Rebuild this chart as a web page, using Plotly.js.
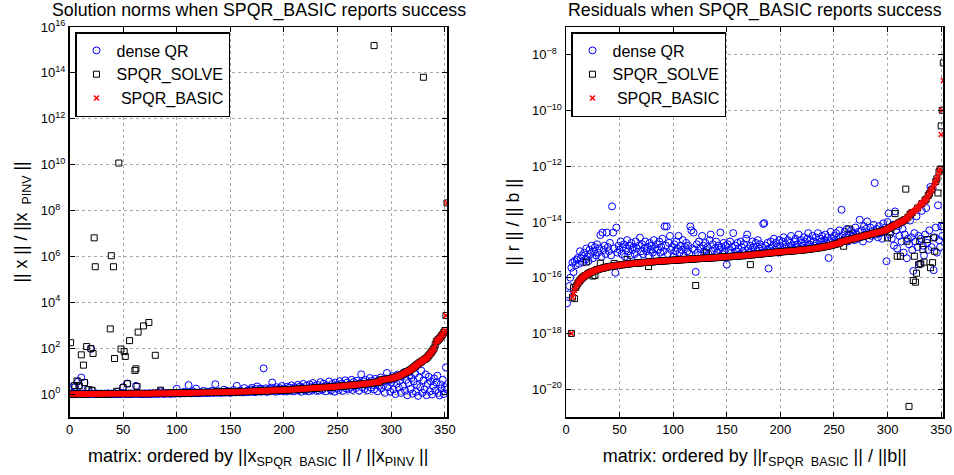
<!DOCTYPE html>
<html>
<head>
<meta charset="utf-8">
<script src="https://cdn.plot.ly/plotly-3.0.1.min.js"></script>
<style>html,body{margin:0;padding:0;background:#fff;}#chart{width:954px;height:475px;}</style>
</head>
<body>
<div id="chart"></div>
<script>
// ---- DATA (log10 of the plotted values) ----
// Left panel: ||x|| / ||x_PINV||, matrices ordered by SPQR_BASIC
const leftBasicLog = [
0,0,0,0,0,0,0,0,0,0,
0,0,0,0,0,0,0,0,0,0,
0,0,0,0,0,0,0,0,0.01,0.01,
0.01,0.01,0.01,0.01,0.01,0.01,0.01,0.01,0.01,0.01,
0.01,0.01,0.01,0.01,0.01,0.01,0.01,0.01,0.01,0.01,
0.01,0.01,0.01,0.01,0.01,0.01,0.02,0.02,0.02,0.02,
0.02,0.02,0.02,0.02,0.02,0.02,0.02,0.02,0.02,0.02,
0.02,0.02,0.02,0.02,0.02,0.02,0.03,0.03,0.03,0.03,
0.03,0.03,0.03,0.03,0.03,0.03,0.03,0.03,0.03,0.03,
0.03,0.03,0.03,0.03,0.04,0.04,0.04,0.04,0.04,0.04,
0.04,0.04,0.04,0.04,0.05,0.05,0.05,0.05,0.05,0.05,
0.05,0.05,0.05,0.06,0.06,0.06,0.06,0.06,0.06,0.06,
0.06,0.06,0.07,0.07,0.07,0.07,0.07,0.07,0.07,0.07,
0.07,0.07,0.07,0.07,0.08,0.08,0.08,0.08,0.08,0.08,
0.08,0.08,0.08,0.08,0.08,0.09,0.09,0.09,0.09,0.09,
0.09,0.09,0.09,0.10,0.10,0.10,0.10,0.10,0.10,0.10,
0.10,0.11,0.11,0.11,0.11,0.11,0.11,0.11,0.12,0.12,
0.12,0.12,0.12,0.13,0.13,0.13,0.13,0.13,0.14,0.14,
0.14,0.14,0.14,0.15,0.15,0.15,0.15,0.15,0.16,0.16,
0.16,0.16,0.16,0.16,0.17,0.17,0.17,0.17,0.17,0.18,
0.18,0.18,0.18,0.19,0.19,0.19,0.19,0.20,0.20,0.20,
0.20,0.21,0.21,0.21,0.22,0.22,0.22,0.22,0.23,0.23,
0.23,0.24,0.24,0.24,0.25,0.25,0.25,0.26,0.26,0.26,
0.27,0.27,0.27,0.28,0.28,0.28,0.29,0.29,0.29,0.30,
0.30,0.30,0.31,0.31,0.31,0.32,0.32,0.32,0.33,0.33,
0.34,0.34,0.34,0.35,0.35,0.36,0.36,0.36,0.37,0.37,
0.38,0.38,0.39,0.39,0.40,0.40,0.41,0.41,0.42,0.42,
0.43,0.43,0.44,0.44,0.45,0.45,0.46,0.46,0.47,0.47,
0.48,0.48,0.49,0.50,0.50,0.51,0.52,0.52,0.53,0.60,
0.61,0.62,0.62,0.63,0.64,0.64,0.65,0.66,0.67,0.68,
0.69,0.71,0.72,0.74,0.75,0.77,0.79,0.80,0.83,0.85,
0.88,0.90,0.93,0.95,0.98,1.00,1.03,1.06,1.09,1.12,
1.16,1.20,1.24,1.28,1.31,1.35,1.38,1.41,1.45,1.48,
1.51,1.54,1.57,1.62,1.68,1.74,1.80,1.86,1.93,2.00,
2.15,2.28,2.33,2.38,2.42,2.48,2.55,2.60,2.68,2.77,
3.42,8.33];

const leftDenseLog = [
0.00,0.02,0.05,0.37,0.30,0.01,0.00,0.55,0.37,0.03,
0.72,0.00,0.02,0.50,0.01,0.00,0.19,0.00,0.02,1.97,
0.15,0.00,0.01,0.00,0.03,0.00,0.01,0.00,0.02,0.00,
0.01,0.00,0.02,0.01,0.00,0.03,0.01,0.00,0.02,0.01,
0.00,0.02,0.01,0.00,0.10,0.01,0.02,0.00,0.05,0.30,
0.02,0.01,0.00,0.46,0.02,0.01,0.03,0.00,0.02,0.01,
0.02,0.36,0.01,0.03,0.00,0.02,0.01,0.02,0.00,0.03,
0.01,0.02,0.00,0.03,0.02,0.01,0.02,0.03,0.01,0.02,
0.03,0.02,0.01,0.03,0.12,0.02,0.03,0.01,0.02,0.03,
0.02,0.04,0.03,0.01,0.03,0.02,0.04,0.03,0.02,0.23,
0.03,0.05,0.02,0.04,0.03,0.05,0.10,0.03,0.04,0.06,
0.39,0.04,0.05,0.03,0.12,0.05,0.04,0.24,0.06,0.03,
0.05,0.08,0.04,0.06,0.14,0.05,0.07,0.04,0.10,0.06,
0.05,0.07,0.15,0.06,0.05,0.43,0.08,0.06,0.12,0.07,
0.05,0.09,0.07,0.19,0.06,0.08,0.14,0.07,0.09,0.05,
0.10,0.08,0.18,0.09,0.07,0.36,0.10,0.08,0.15,0.09,
0.11,0.07,0.26,0.10,0.08,0.16,0.12,0.09,0.20,0.27,
0.10,0.14,0.08,0.22,0.33,0.11,0.15,0.24,0.10,0.18,
1.12,0.13,0.25,0.09,0.20,0.16,0.12,0.28,0.50,0.14,
0.22,0.10,0.30,0.15,0.12,0.26,0.18,0.35,0.13,0.24,
0.20,0.11,0.32,0.17,0.28,0.14,0.38,0.22,0.12,0.30,
0.25,0.16,0.40,0.18,0.33,0.10,0.28,0.44,0.20,0.15,
0.36,0.24,0.12,0.42,0.30,0.18,0.48,0.22,0.35,0.14,
0.40,0.26,0.15,0.52,0.32,0.20,0.45,0.28,0.12,0.38,
0.30,0.55,0.22,0.16,0.44,0.35,0.10,0.50,0.26,0.40,
0.18,0.56,0.32,0.45,0.14,0.38,0.60,0.24,0.50,0.20,
0.42,0.30,0.62,0.18,0.52,0.35,0.26,0.58,0.40,0.15,
0.48,0.86,0.30,0.55,0.22,0.62,0.38,0.16,0.50,0.70,
0.28,0.58,0.40,0.20,0.66,0.45,0.12,0.60,0.35,0.72,
0.25,0.55,0.40,0.05,0.68,0.92,0.30,0.60,0.10,0.50,
0.78,0.20,0.65,0.00,0.45,0.85,0.28,0.58,0.05,0.75,
0.35,0.95,0.15,0.62,-0.05,0.48,0.82,0.22,0.70,0.02,
0.55,0.88,0.10,0.40,-0.08,0.72,0.30,1.02,0.05,0.60,
0.20,0.85,-0.05,0.45,0.75,0.12,0.55,-0.02,0.35,0.68,
0.15,0.50,0.80,0.05,-0.06,0.42,0.25,0.62,0.00,0.30,
1.16,0.20];

// SPQR_SOLVE equals SPQR_BASIC except at these matrices
const leftSolveIdx = [1,5,7,9,11,13,14,16,18,20,21,22,23,24,38,39,41,42,44,46,48,50,51,52,54,56,61,62,63,64,69,74,80,85,284,330];
const leftSolveLog = [2.24,0.37,0.57,0.36,1.71,1.26,0.50,2.07,0.19,1.98,0.16,1.77,6.81,5.55,2.84,6.03,5.55,1.55,0.12,10.07,1.96,0.28,1.85,1.64,0.45,2.33,1.03,1.10,0.33,2.70,2.97,3.12,1.69,0.17,15.19,13.81];

// Right panel: ||r|| / ||b||, matrices ordered by SPQR_BASIC residual
const rightBasicLog = [
null,null,null,null,-18.00,-16.70,-16.58,-16.45,-16.35,-16.27,
-16.20,-16.15,-16.10,-16.05,-16.01,-15.98,-15.95,-15.92,-15.89,-15.87,
-15.85,-15.83,-15.81,-15.79,-15.77,-15.76,-15.74,-15.73,-15.71,-15.70,
-15.69,-15.68,-15.67,-15.66,-15.65,-15.64,-15.63,-15.62,-15.61,-15.60,
-15.60,-15.59,-15.59,-15.58,-15.57,-15.57,-15.56,-15.56,-15.55,-15.55,
-15.54,-15.54,-15.53,-15.53,-15.52,-15.52,-15.51,-15.51,-15.50,-15.50,
-15.49,-15.49,-15.49,-15.48,-15.48,-15.48,-15.47,-15.47,-15.47,-15.46,
-15.46,-15.46,-15.45,-15.45,-15.45,-15.44,-15.44,-15.44,-15.43,-15.43,
-15.43,-15.42,-15.42,-15.42,-15.41,-15.41,-15.41,-15.40,-15.40,-15.40,
-15.40,-15.39,-15.39,-15.39,-15.39,-15.38,-15.38,-15.38,-15.38,-15.37,
-15.37,-15.37,-15.37,-15.36,-15.36,-15.36,-15.36,-15.35,-15.35,-15.35,
-15.35,-15.34,-15.34,-15.34,-15.34,-15.33,-15.33,-15.33,-15.33,-15.32,
-15.32,-15.32,-15.32,-15.31,-15.31,-15.31,-15.31,-15.30,-15.30,-15.30,
-15.30,-15.30,-15.29,-15.29,-15.29,-15.29,-15.28,-15.28,-15.28,-15.28,
-15.27,-15.27,-15.27,-15.27,-15.26,-15.26,-15.26,-15.26,-15.25,-15.25,
-15.25,-15.25,-15.24,-15.24,-15.24,-15.24,-15.23,-15.23,-15.23,-15.22,
-15.22,-15.22,-15.21,-15.21,-15.21,-15.20,-15.20,-15.20,-15.19,-15.19,
-15.19,-15.18,-15.18,-15.18,-15.17,-15.17,-15.16,-15.16,-15.16,-15.15,
-15.15,-15.14,-15.14,-15.14,-15.13,-15.13,-15.12,-15.12,-15.12,-15.11,
-15.11,-15.10,-15.10,-15.10,-15.09,-15.09,-15.08,-15.08,-15.08,-15.07,
-15.07,-15.07,-15.06,-15.06,-15.06,-15.05,-15.05,-15.05,-15.04,-15.04,
-15.04,-15.03,-15.03,-15.03,-15.02,-15.02,-15.02,-15.01,-15.01,-15.00,
-15.00,-15.00,-14.99,-14.99,-14.98,-14.98,-14.97,-14.97,-14.96,-14.96,
-14.95,-14.95,-14.94,-14.94,-14.93,-14.92,-14.92,-14.91,-14.90,-14.90,
-14.89,-14.88,-14.87,-14.87,-14.86,-14.85,-14.84,-14.83,-14.82,-14.81,
-14.80,-14.79,-14.78,-14.77,-14.76,-14.72,-14.71,-14.70,-14.69,-14.68,
-14.67,-14.66,-14.65,-14.64,-14.63,-14.62,-14.61,-14.60,-14.59,-14.58,
-14.57,-14.56,-14.55,-14.54,-14.53,-14.52,-14.51,-14.50,-14.49,-14.48,
-14.47,-14.46,-14.45,-14.44,-14.43,-14.42,-14.41,-14.40,-14.39,-14.38,
-14.37,-14.36,-14.35,-14.34,-14.33,-14.32,-14.31,-14.29,-14.27,-14.25,
-14.23,-14.21,-14.19,-14.17,-14.15,-14.13,-14.11,-14.09,-14.07,-14.05,
-14.03,-14.01,-13.99,-13.97,-13.95,-13.92,-13.90,-13.87,-13.83,-13.78,
-13.73,-13.69,-13.66,-13.63,-13.60,-13.57,-13.54,-13.50,-13.46,-13.42,
-13.38,-13.34,-13.30,-13.26,-13.22,-13.18,-13.12,-13.05,-12.98,-12.90,
-12.85,-12.80,-12.70,-12.62,-12.55,-12.45,-12.35,-12.20,-12.10,-10.86,
-9.99,-8.92];

const rightDenseLog = [
-16.92,-16.60,-16.30,-16.00,-15.64,-15.46,-15.80,-15.40,-15.55,-15.35,
-15.29,-15.50,-15.05,-15.30,-15.20,-15.45,-15.10,-15.35,-14.95,-15.25,
-15.40,-15.00,-15.15,-14.85,-15.30,-15.05,-14.90,-15.20,-14.80,-15.10,
-14.95,-14.47,-15.25,-14.38,-15.00,-14.85,-15.15,-14.38,-14.90,-15.05,
-14.75,-15.20,-13.44,-14.38,-14.95,-15.82,-14.20,-15.10,-14.85,-15.00,
-14.70,-15.15,-14.90,-14.80,-15.25,-14.95,-14.65,-15.05,-14.85,-15.20,
-14.75,-15.00,-14.90,-15.15,-14.70,-14.95,-15.30,-14.85,-14.56,-15.05,
-14.80,-15.15,-14.95,-14.70,-15.05,-14.90,-15.20,-14.75,-15.00,-14.85,
-15.10,-14.65,-14.95,-15.20,-14.80,-15.00,-14.70,-15.10,-14.90,-14.60,
-15.05,-14.16,-14.85,-14.16,-15.15,-14.75,-14.50,-15.00,-14.90,-15.25,
-14.80,-15.05,-14.70,-14.95,-14.50,-15.10,-14.85,-15.00,-14.65,-15.20,
-14.90,-14.75,-15.05,-14.85,-15.15,-14.16,-14.30,-14.95,-14.38,-15.00,
-15.79,-14.80,-15.10,-14.70,-14.95,-15.20,-14.50,-14.85,-15.05,-14.75,
-15.00,-14.90,-15.15,-14.65,-14.45,-15.05,-14.80,-15.25,-14.95,-14.70,
-15.10,-14.85,-15.00,-14.38,-14.90,-15.15,-14.75,-15.05,-14.85,-15.53,
-14.80,-15.00,-14.70,-15.10,-14.90,-14.40,-15.20,-14.85,-15.05,-14.75,
-14.95,-15.15,-14.70,-14.90,-15.05,-14.80,-15.20,-14.60,-14.45,-14.95,
-15.10,-14.85,-15.00,-14.70,-14.90,-15.15,-14.75,-15.05,-14.65,-14.95,
-14.80,-15.10,-14.90,-14.07,-14.04,-14.85,-15.00,-14.75,-15.67,-14.95,
-14.70,-15.05,-14.85,-14.60,-15.00,-14.75,-14.90,-15.10,-14.65,-14.85,
-15.00,-14.70,-14.55,-14.95,-14.80,-15.05,-14.65,-14.90,-14.75,-14.50,
-14.85,-15.00,-14.70,-14.60,-14.90,-14.80,-14.45,-14.95,-14.65,-14.75,
-14.85,-14.55,-14.70,-14.95,-14.60,-14.40,-14.80,-14.65,-14.90,-14.50,
-14.70,-14.85,-14.55,-14.75,-14.40,-14.90,-14.60,-14.70,-14.50,-14.80,
-14.65,-14.45,-14.75,-14.55,-15.29,-14.70,-14.35,-14.60,-14.80,-14.50,
-14.65,-14.40,-14.75,-14.55,-14.30,-14.70,-13.56,-14.50,-14.65,-14.35,
-14.55,-14.25,-14.70,-14.45,-14.60,-14.30,-14.50,-14.40,-14.65,-14.20,
-14.45,-14.60,-14.35,-13.92,-14.55,-14.30,-14.70,-14.15,-14.45,-14.25,
-13.98,-14.40,-14.60,-14.20,-14.50,-14.35,-14.10,-12.60,-14.45,-14.25,
-14.55,-14.15,-14.40,-14.30,-14.60,-14.05,-14.35,-14.20,-15.41,-14.00,
-13.69,-14.45,-14.20,-14.60,-14.10,-14.85,-13.62,-14.30,-14.95,-14.15,
-14.50,-14.00,-14.70,-14.25,-15.10,-14.45,-13.90,-15.30,-14.60,-14.80,
-13.95,-14.55,-15.00,-15.76,-14.40,-14.70,-13.80,-14.90,-14.50,-15.50,
-14.60,-13.60,-14.85,-15.20,-14.45,-13.50,-14.75,-15.00,-14.30,-12.74,
-14.90,-12.79,-15.73,-14.55,-14.20,-15.10,-13.40,-14.65,-14.90,-14.16,
-14.50,-14.16];

const rightSolveIdx = [7,8,19,25,27,32,45,57,77,121,131,172,259,264,300,303,307,309,312,317,318,320,324,325,326,327,329,330,331,333,334,337,340,342,343,344,347,350,352];
const rightSolveLog = [-16.36,-16.75,-15.44,-15.94,-15.92,-15.48,-15.49,-15.35,-15.60,-16.28,-15.11,-15.53,-14.87,-14.25,-14.57,-14.36,-13.70,-15.23,-15.23,-12.82,-14.69,-20.62,-16.10,-15.23,-16.16,-15.84,-15.53,-14.69,-15.50,-14.99,-15.44,-14.63,-15.64,-15.46,-14.57,-15.05,-12.96,-10.55,-8.29];

const seriesNames = ['dense QR', 'SPQR_SOLVE', '\u00a0SPQR_BASIC'];
const xTickVals = [0,50,100,150,200,250,300,350];
const leftYExp = [0,2,4,6,8,10,12,14,16];
const rightYExp = [-20,-18,-16,-14,-12,-10,-8];

// ---- build ----
const toVal = a => a.map(v => v === null ? null : Math.pow(10, v));
const idx = a => a.map((_, i) => i + 1);
function withOverrides(base, ids, vals) {
  const out = base.slice();
  ids.forEach((k, j) => { out[k - 1] = vals[j]; });
  return out;
}
const leftSolveLogFull = withOverrides(leftBasicLog, leftSolveIdx, leftSolveLog);
const rightSolveLogFull = withOverrides(rightBasicLog, rightSolveIdx, rightSolveLog);

const FONT = 'Liberation Sans, Arial, Helvetica, sans-serif';
const mDense = {symbol: 'circle-open', size: 7, color: '#0000ff', line: {width: 1, color: '#0000ff'}};
const mSolve = {symbol: 'square-open', size: 6, color: '#000000', line: {width: 1, color: '#000000'}};
const mBasic = {symbol: 'x-thin-open', size: 5, color: '#ff0000', line: {width: 1.5, color: '#ff0000'}};

function mk(y, name, marker, xa, ya, leg) {
  return {type: 'scatter', mode: 'markers', x: idx(y), y: toVal(y), name: name,
          marker: marker, xaxis: xa, yaxis: ya, legend: leg, hoverinfo: 'x+y'};
}

const traces = [
  mk(leftDenseLog, seriesNames[0], mDense, 'x', 'y', 'legend'),
  mk(leftSolveLogFull, seriesNames[1], mSolve, 'x', 'y', 'legend'),
  mk(leftBasicLog, seriesNames[2], mBasic, 'x', 'y', 'legend'),
  mk(rightDenseLog, seriesNames[0], mDense, 'x2', 'y2', 'legend2'),
  mk(rightSolveLogFull, seriesNames[1], mSolve, 'x2', 'y2', 'legend2'),
  mk(rightBasicLog, seriesNames[2], mBasic, 'x2', 'y2', 'legend2')
];

const expLabel = e => {
  const s = (e < 0 ? '\u2212' : '') + Math.abs(e);
  const pad = Math.abs(e) < 10 ? '\u2007' : '';
  return '10<sup>' + s + pad + '</sup>';
};

const W = 954, H = 475;
const axCommon = {
  showline: true, linecolor: '#000', linewidth: 1.5, mirror: 'ticks',
  ticks: 'inside', ticklen: 5, tickcolor: '#000', tickwidth: 1,
  showgrid: true, gridcolor: '#a8a8a8', griddash: 'dot', gridwidth: 1,
  zeroline: false, tickfont: {family: FONT, size: 13, color: '#000'}
};
const xaxisBase = Object.assign({}, axCommon, {range: [0, 352], tickvals: xTickVals, ticktext: xTickVals.map(String)});

const layout = {
  width: W, height: H,
  margin: {l: 0, r: 0, t: 0, b: 0},
  paper_bgcolor: '#fff', plot_bgcolor: '#fff',
  font: {family: FONT, color: '#000'},
  showlegend: true,
  xaxis: Object.assign({}, xaxisBase, {domain: [69.5 / W, 447 / W], anchor: 'y',
    title: {text: 'matrix: ordered by ||x<sub>SPQR\u00a0\u00a0BASIC</sub> || / ||x<sub>PINV</sub> ||', font: {family: FONT, size: 18}, standoff: 13}}),
  yaxis: Object.assign({}, axCommon, {domain: [1 - 417 / H, 1 - 27 / H], anchor: 'x', type: 'log', range: [-1, 16],
    tickvals: leftYExp.map(e => Math.pow(10, e)), ticktext: leftYExp.map(expLabel),
    title: {text: '|| x || / ||x <sub>\u00a0PINV</sub> ||', font: {family: FONT, size: 17.7}, standoff: 8}}),
  xaxis2: Object.assign({}, xaxisBase, {domain: [566 / W, 943.3 / W], anchor: 'y2',
    title: {text: 'matrix: ordered by ||r<sub>SPQR\u00a0\u00a0BASIC</sub> || / ||b||', font: {family: FONT, size: 18}, standoff: 13}}),
  yaxis2: Object.assign({}, axCommon, {domain: [1 - 417 / H, 1 - 27 / H], anchor: 'x2', type: 'log', range: [-21, -7],
    tickvals: rightYExp.map(e => Math.pow(10, e)), ticktext: rightYExp.map(expLabel),
    title: {text: '|| r || / || b ||', font: {family: FONT, size: 17.7}, standoff: 8}}),
  legend: {x: 75 / W, y: 1 - 32 / H, xanchor: 'left', yanchor: 'top', bgcolor: '#fff',
    bordercolor: '#000', borderwidth: 1.5, font: {family: FONT, size: 16, color: '#000'}},
  legend2: {x: 571 / W, y: 1 - 32 / H, xanchor: 'left', yanchor: 'top', bgcolor: '#fff',
    bordercolor: '#000', borderwidth: 1.5, font: {family: FONT, size: 16, color: '#000'}},
  annotations: [
    {text: 'Solution norms when SPQR_BASIC reports success', xref: 'paper', yref: 'paper',
     x: 258.5 / W, y: 1 - 10.5 / H, xanchor: 'center', yanchor: 'middle', showarrow: false,
     font: {family: FONT, size: 17.8, color: '#000'}},
    {text: 'Residuals when SPQR_BASIC reports success', xref: 'paper', yref: 'paper',
     x: 755 / W, y: 1 - 10.5 / H, xanchor: 'center', yanchor: 'middle', showarrow: false,
     font: {family: FONT, size: 17.8, color: '#000'}}
  ]
};

Plotly.newPlot('chart', traces, layout, {staticPlot: true, displayModeBar: false});
</script>
</body>
</html>
